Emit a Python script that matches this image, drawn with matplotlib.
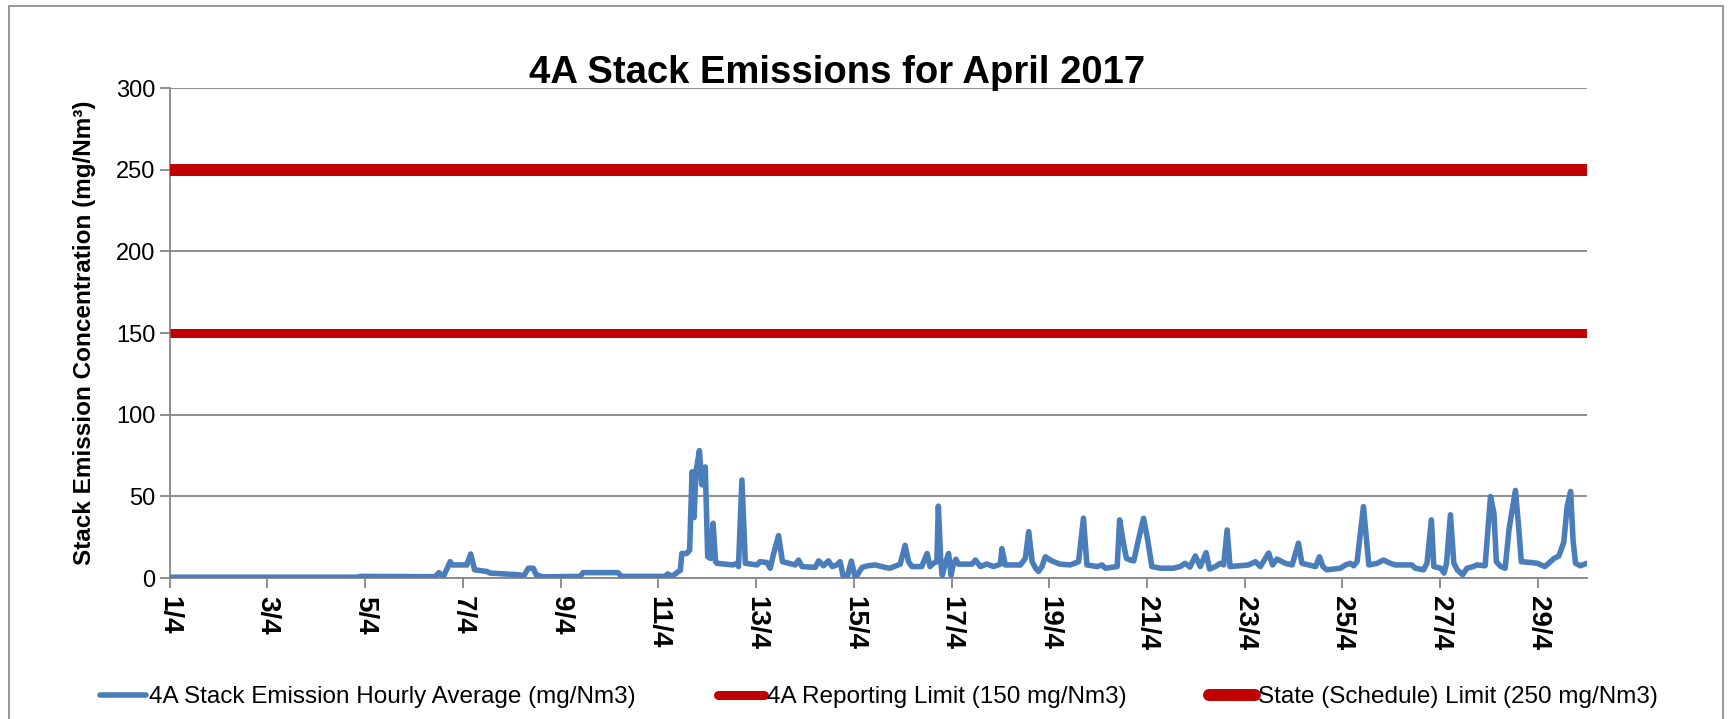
import matplotlib.pyplot as plt
from matplotlib.lines import Line2D
from matplotlib.patches import Rectangle

_BLUE = "#4A7EBB"
_RED = "#C00000"
_GRID = "#868686"

# day offset from 1/4 00:00 and hourly average (mg/Nm3)
days = [
    0.00, 3.86, 3.90, 5.43, 5.51, 5.60, 5.74, 5.78, 6.08, 6.16, 6.24, 6.49,
    6.56, 7.13, 7.25, 7.34, 7.44, 7.50, 7.64, 8.40, 8.46, 9.17, 9.25, 10.14,
    10.19, 10.28, 10.38, 10.45, 10.48, 10.58, 10.64, 10.69, 10.73, 10.77, 10.84,
    10.89, 10.96, 11.01, 11.07, 11.12, 11.17, 11.20, 11.53, 11.61, 11.64, 11.71,
    11.78, 12.02, 12.08, 12.22, 12.29, 12.36, 12.46, 12.54, 12.80, 12.87, 12.94,
    13.21, 13.28, 13.38, 13.48, 13.56, 13.65, 13.72, 13.79, 13.86, 13.95, 14.03,
    14.17, 14.29, 14.44, 14.64, 14.74, 14.95, 15.05, 15.12, 15.19, 15.39, 15.50,
    15.56, 15.63, 15.70, 15.73, 15.78, 15.81, 15.87, 15.94, 15.99, 16.04, 16.09,
    16.14, 16.42, 16.49, 16.59, 16.72, 16.86, 17.00, 17.03, 17.10, 17.41, 17.51,
    17.58, 17.65, 17.72, 17.78, 17.85, 17.92, 18.02, 18.09, 18.22, 18.43, 18.60,
    18.70, 18.77, 18.98, 19.08, 19.15, 19.39, 19.44, 19.52, 19.58, 19.66, 19.73,
    19.83, 19.93, 20.01, 20.10, 20.27, 20.54, 20.68, 20.78, 20.88, 20.99, 21.09,
    21.21, 21.28, 21.40, 21.50, 21.57, 21.64, 21.70, 22.08, 22.22, 22.32, 22.49,
    22.57, 22.66, 22.83, 22.97, 23.10, 23.17, 23.45, 23.53, 23.60, 23.68, 23.96,
    24.06, 24.16, 24.23, 24.30, 24.43, 24.54, 24.71, 24.84, 24.98, 25.08, 25.25,
    25.42, 25.49, 25.66, 25.73, 25.82, 25.87, 26.01, 26.08, 26.13, 26.21, 26.28,
    26.35, 26.46, 26.55, 26.68, 26.75, 26.92, 27.03, 27.10, 27.15, 27.24, 27.33,
    27.41, 27.54, 27.61, 27.66, 27.85, 27.99, 28.14, 28.22, 28.33, 28.43, 28.53,
    28.60, 28.67, 28.72, 28.77, 28.87, 29.00,
]
hourly_avg = [
    0.5, 0.5, 1.0, 0.8, 3.3, 0.8, 10, 8, 8, 14.7, 5, 4,
    3, 2, 1.5, 6, 6, 2, 0.7, 1, 3.3, 3.3, 1, 1,
    2.5, 1, 3.3, 4.7, 15, 15, 17, 65, 37, 65, 78,
    57, 68, 13, 12, 33.5, 10, 9, 8, 9, 7, 60,
    9, 8, 10, 9.5, 6, 15, 26, 10, 8, 11, 7,
    6.5, 10.5, 7.5, 10.5, 7, 8, 10, 0, 0, 10.4, 0,
    6.5, 7.5, 8, 6.5, 6, 8.5, 20, 10, 7, 7, 15,
    7, 9, 10, 44, 10, 1.5, 9, 15, 1.5, 9, 11.5,
    8.5, 8.5, 11, 7, 8.6, 7, 8.5, 18, 8, 8, 12,
    28.4, 10, 6, 4, 7, 13, 11, 10, 8.5, 8, 10,
    36.6, 8, 7, 8, 6, 7, 35.6, 21, 12, 11, 10.5,
    24, 36.6, 24, 7, 6, 6, 7, 9, 6.7, 13.5, 7,
    15.5, 5.5, 7, 9, 8, 29.4, 7, 8, 10, 7, 15.3,
    8, 11.6, 9, 8, 21.3, 9, 7, 13, 7, 5, 6,
    8, 9, 7.5, 10, 43.7, 8, 9, 11, 9, 8, 8,
    8, 6, 5, 9, 35.6, 7, 6, 3, 9, 38.7, 9,
    5, 2, 6, 7, 8, 7.5, 49.9, 39.7, 10, 7, 6,
    30, 53.6, 30, 10, 9.5, 9, 7, 9, 12, 13.5, 22,
    44, 53, 23, 9, 7.5, 9,
]
reporting_limit = 150
state_limit = 250
x_range = [0, 29]
tick_days = list(range(0, 29, 2))
tick_labels = [f"{d + 1}/4" for d in tick_days]

_FONT = "Liberation Sans"

fig = plt.figure(figsize=(17.3, 7.19), dpi=100)
fig.patch.set_facecolor("white")
fig.patches.append(Rectangle((0.005, -0.05), 0.991, 1.042, transform=fig.transFigure,
                             fill=False, edgecolor=_GRID, lw=1.2))

ax = fig.add_axes([0.0981, 0.1961, 0.8191, 0.6815])
ax.plot(x_range, [state_limit, state_limit], color=_RED, lw=8.6, solid_capstyle="butt", zorder=3)
ax.plot(x_range, [reporting_limit, reporting_limit], color=_RED, lw=6.5, solid_capstyle="butt", zorder=3)
ax.plot(days, hourly_avg, color=_BLUE, lw=4.0, solid_joinstyle="round",
        solid_capstyle="round", zorder=4)

ax.set_xlim(*x_range)
ax.set_ylim(0, 300)
ax.set_yticks(range(0, 301, 50))
ax.set_xticks(tick_days)
ax.set_xticklabels(tick_labels, rotation=-90, fontweight="bold", fontsize=20, family=_FONT)
for lbl in ax.get_yticklabels():
    lbl.set_fontsize(17)
    lbl.set_family(_FONT)

ax.grid(axis="y", color=_GRID, lw=1.3, zorder=0)
ax.set_axisbelow(True)
for sp in ("top", "right"):
    ax.spines[sp].set_visible(False)
for sp in ("left", "bottom"):
    ax.spines[sp].set_color(_GRID)
    ax.spines[sp].set_linewidth(1.3)
ax.tick_params(axis="both", colors=_GRID, length=7, width=1.3, labelcolor="black")
ax.tick_params(axis="x", pad=6)

ax.set_ylabel("Stack Emission Concentration (mg/Nm³)", fontsize=17.5, fontweight="bold",
              family=_FONT, labelpad=14)

fig.text(0.484, 0.898, "4A Stack Emissions for April 2017", ha="center", va="center",
         fontsize=27.5, fontweight="bold", family=_FONT)

handles = [
    Line2D([], [], color=_BLUE, lw=4.0, solid_capstyle="round"),
    Line2D([], [], color=_RED, lw=6.5, solid_capstyle="round"),
    Line2D([], [], color=_RED, lw=8.6, solid_capstyle="round"),
]
labels = [
    "4A Stack Emission Hourly Average (mg/Nm3)",
    "4A Reporting Limit (150 mg/Nm3)",
    "State (Schedule) Limit (250 mg/Nm3)",
]
fig.legend(handles, labels, loc="center", bbox_to_anchor=(0.508, 0.03), ncol=3,
           frameon=False, handlelength=1.9, handletextpad=0.1, columnspacing=3.4,
           prop={"family": _FONT, "size": 17.5})

fig.savefig("out.png", dpi=100, facecolor="white")
